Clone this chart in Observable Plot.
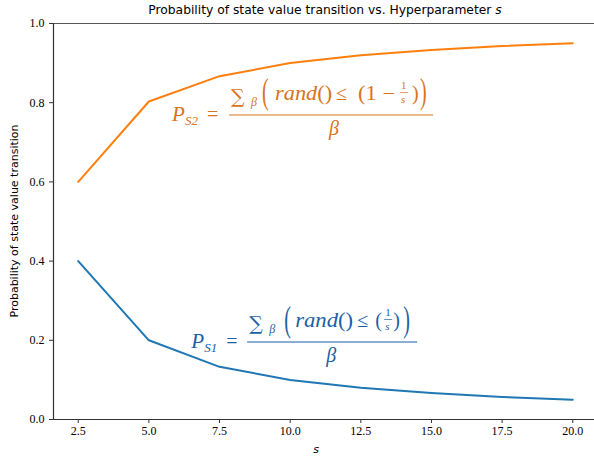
<!DOCTYPE html>
<html>
<head>
<meta charset="utf-8">
<script src="https://cdn.jsdelivr.net/npm/d3@7"></script>
<script src="https://cdn.jsdelivr.net/npm/@observablehq/plot@0.6"></script>
<style>
  html, body { margin: 0; padding: 0; background: #fff; overflow: hidden; }
  #chart { position: relative; width: 594px; height: 459px; }
</style>
</head>
<body>
<div id="chart"></div>
<script>
// ---- data ----
const sValues = [2.5, 5.0, 7.5, 10.0, 12.5, 15.0, 17.5, 20.0];
const pS1 = [0.400, 0.200, 0.133, 0.100, 0.080, 0.067, 0.057, 0.050];
const pS2 = [0.600, 0.803, 0.867, 0.900, 0.920, 0.933, 0.943, 0.950];
const xTicks = [2.5, 5.0, 7.5, 10.0, 12.5, 15.0, 17.5, 20.0];
const yTicks = [0.0, 0.2, 0.4, 0.6, 0.8, 1.0];
const titleText = "Probability of state value transition vs. Hyperparameter ";
const yLabelText = "Probability of state value transition";
const xLabelText = "s";

const s1Rows = sValues.map((s, i) => ({s, p: pS1[i]}));
const s2Rows = sValues.map((s, i) => ({s, p: pS2[i]}));

const blue = "#1f77b4", orange = "#ff7f0e";
const serif = "'Liberation Serif', 'DejaVu Serif', serif";
const sans = "'DejaVu Sans', 'Open Sans', sans-serif";

const xDomain = [1.625, 20.875];

const plot = Plot.plot({
  width: 594,
  height: 459,
  marginLeft: 53,
  marginTop: 23,
  marginBottom: 40,
  marginRight: -3,
  style: {background: "white", overflow: "visible"},
  x: {domain: xDomain, label: null},
  y: {domain: [0, 1], label: null},
  marks: [
    Plot.axisX({ticks: xTicks, tickFormat: d3.format(".1f"), tickSize: 4, tickPadding: 3, label: null,
      fontFamily: serif, fontSize: 12, stroke: "#333"}),
    Plot.axisY({ticks: yTicks, tickFormat: d3.format(".1f"), tickSize: 4, tickPadding: 5, label: null,
      fontFamily: serif, fontSize: 12, stroke: "#333"}),
    Plot.line(s1Rows, {x: "s", y: "p", stroke: blue, strokeWidth: 2}),
    Plot.line(s2Rows, {x: "s", y: "p", stroke: orange, strokeWidth: 2}),
    Plot.ruleY([0], {stroke: "#333", strokeWidth: 1.2}),
    Plot.ruleY([1], {stroke: "#555", strokeWidth: 1.2}),
    Plot.ruleX([xDomain[0]], {stroke: "#333", strokeWidth: 1.2})
  ]
});
document.getElementById("chart").appendChild(plot);

const svg = d3.select(plot);
const sx = v => plot.scale("x").apply(v);
const sy = v => plot.scale("y").apply(v);
const midX = (sx(xDomain[0]) + sx(xDomain[1])) / 2;

// title
const t = svg.append("text").attr("x", midX).attr("y", 14).attr("text-anchor", "middle")
  .attr("font-family", sans).attr("font-size", 12.3).attr("fill", "#000");
t.append("tspan").text(titleText);
t.append("tspan").attr("font-style", "italic").text("s");

// x label
svg.append("text").attr("x", midX - 9).attr("y", 453).attr("text-anchor", "middle")
  .attr("font-family", sans).attr("font-size", 11).attr("font-style", "italic").text(xLabelText);

// y label
svg.append("text").attr("transform", `translate(18,${(sy(0) + sy(1)) / 2}) rotate(-90)`)
  .attr("text-anchor", "middle").attr("font-family", sans).attr("font-size", 11).text(yLabelText);

// formula annotations (anchored in data coordinates at left end of fraction bar)
function formula(x0d, y0d, color, pieces, barW) {
  const x0 = sx(x0d), y0 = sy(y0d);
  const g = svg.append("g").attr("fill", color).attr("font-family", serif).attr("text-anchor", "start");
  for (const p of pieces) {
    const el = g.append("text").attr("font-size", p.size);
    if (p.sy) el.attr("transform", `translate(${x0 + p.dx},${y0 + p.dy}) scale(1,${p.sy})`);
    else el.attr("x", x0 + p.dx).attr("y", y0 + p.dy);
    if (p.it) el.attr("font-style", "italic");
    if (p.ff) el.attr("font-family", p.ff);
    if (p.len) el.attr("textLength", p.len).attr("lengthAdjust", "spacingAndGlyphs");
    if (p.parts) {
      for (const [txt, it] of p.parts) {
        const ts = el.append("tspan").text(txt);
        if (it) ts.attr("font-style", "italic");
      }
    } else el.text(p.t);
  }
  g.append("line").attr("x1", x0).attr("x2", x0 + barW).attr("y1", y0).attr("y2", y0)
    .attr("stroke", color).attr("stroke-width", 1.1);
  return {g, x0, y0};
}
const dv = "'DejaVu Serif', serif";

// orange: P_S2
{
  const c = "#d9731c";
  const {g, x0, y0} = formula(7.857, 0.7677, c, [
    {t: "P", dx: -57, dy: 6, size: 21, it: true},
    {t: "S2", dx: -44, dy: 10, size: 13, it: true},
    {t: "=", dx: -22, dy: 6, size: 20},
    {t: "∑", dx: 2, dy: -12, size: 19, ff: dv},
    {t: "β", dx: 22, dy: -9, size: 12, it: true},
    {t: "(", dx: 33, dy: -11.5, size: 20, sy: 1.75},
    {parts: [["rand", true], ["()", false]], dx: 46, dy: -15, size: 20, len: 57},
    {t: "≤", dx: 107, dy: -15, size: 20},
    {t: "(1 −", dx: 129, dy: -15, size: 20, len: 37},
    {t: "1", dx: 172, dy: -26, size: 11},
    {t: "s", dx: 172, dy: -12, size: 11, it: true},
    {t: ")", dx: 183, dy: -15, size: 20},
    {t: ")", dx: 191, dy: -11.5, size: 20, sy: 1.75},
    {t: "β", dx: 100, dy: 20, size: 20, it: true}
  ], 204);
  g.append("line").attr("x1", x0 + 171).attr("x2", x0 + 179).attr("y1", y0 - 22.5).attr("y2", y0 - 22.5)
    .attr("stroke", c).attr("stroke-width", 0.7);
}
// blue: P_S1
{
  const c = "#1c5fa6";
  const {g, x0, y0} = formula(8.495, 0.1944, c, [
    {t: "P", dx: -56, dy: 6, size: 21, it: true},
    {t: "S1", dx: -43, dy: 10, size: 13, it: true},
    {t: "=", dx: -21, dy: 6, size: 20},
    {t: "∑", dx: 2, dy: -12, size: 19, ff: dv},
    {t: "β", dx: 22, dy: -9, size: 12, it: true},
    {t: "(", dx: 37, dy: -11.5, size: 20, sy: 1.75},
    {parts: [["rand", true], ["()", false]], dx: 48, dy: -15, size: 20, len: 58},
    {t: "≤", dx: 110, dy: -15, size: 20},
    {t: "(", dx: 128, dy: -15, size: 20},
    {t: "1", dx: 138, dy: -26, size: 11},
    {t: "s", dx: 138, dy: -12, size: 11, it: true},
    {t: ")", dx: 146, dy: -15, size: 20},
    {t: ")", dx: 156, dy: -11.5, size: 20, sy: 1.75},
    {t: "β", dx: 79, dy: 20, size: 20, it: true}
  ], 170);
  g.append("line").attr("x1", x0 + 137).attr("x2", x0 + 145).attr("y1", y0 - 22.5).attr("y2", y0 - 22.5)
    .attr("stroke", c).attr("stroke-width", 0.7);
}
</script>
</body>
</html>
